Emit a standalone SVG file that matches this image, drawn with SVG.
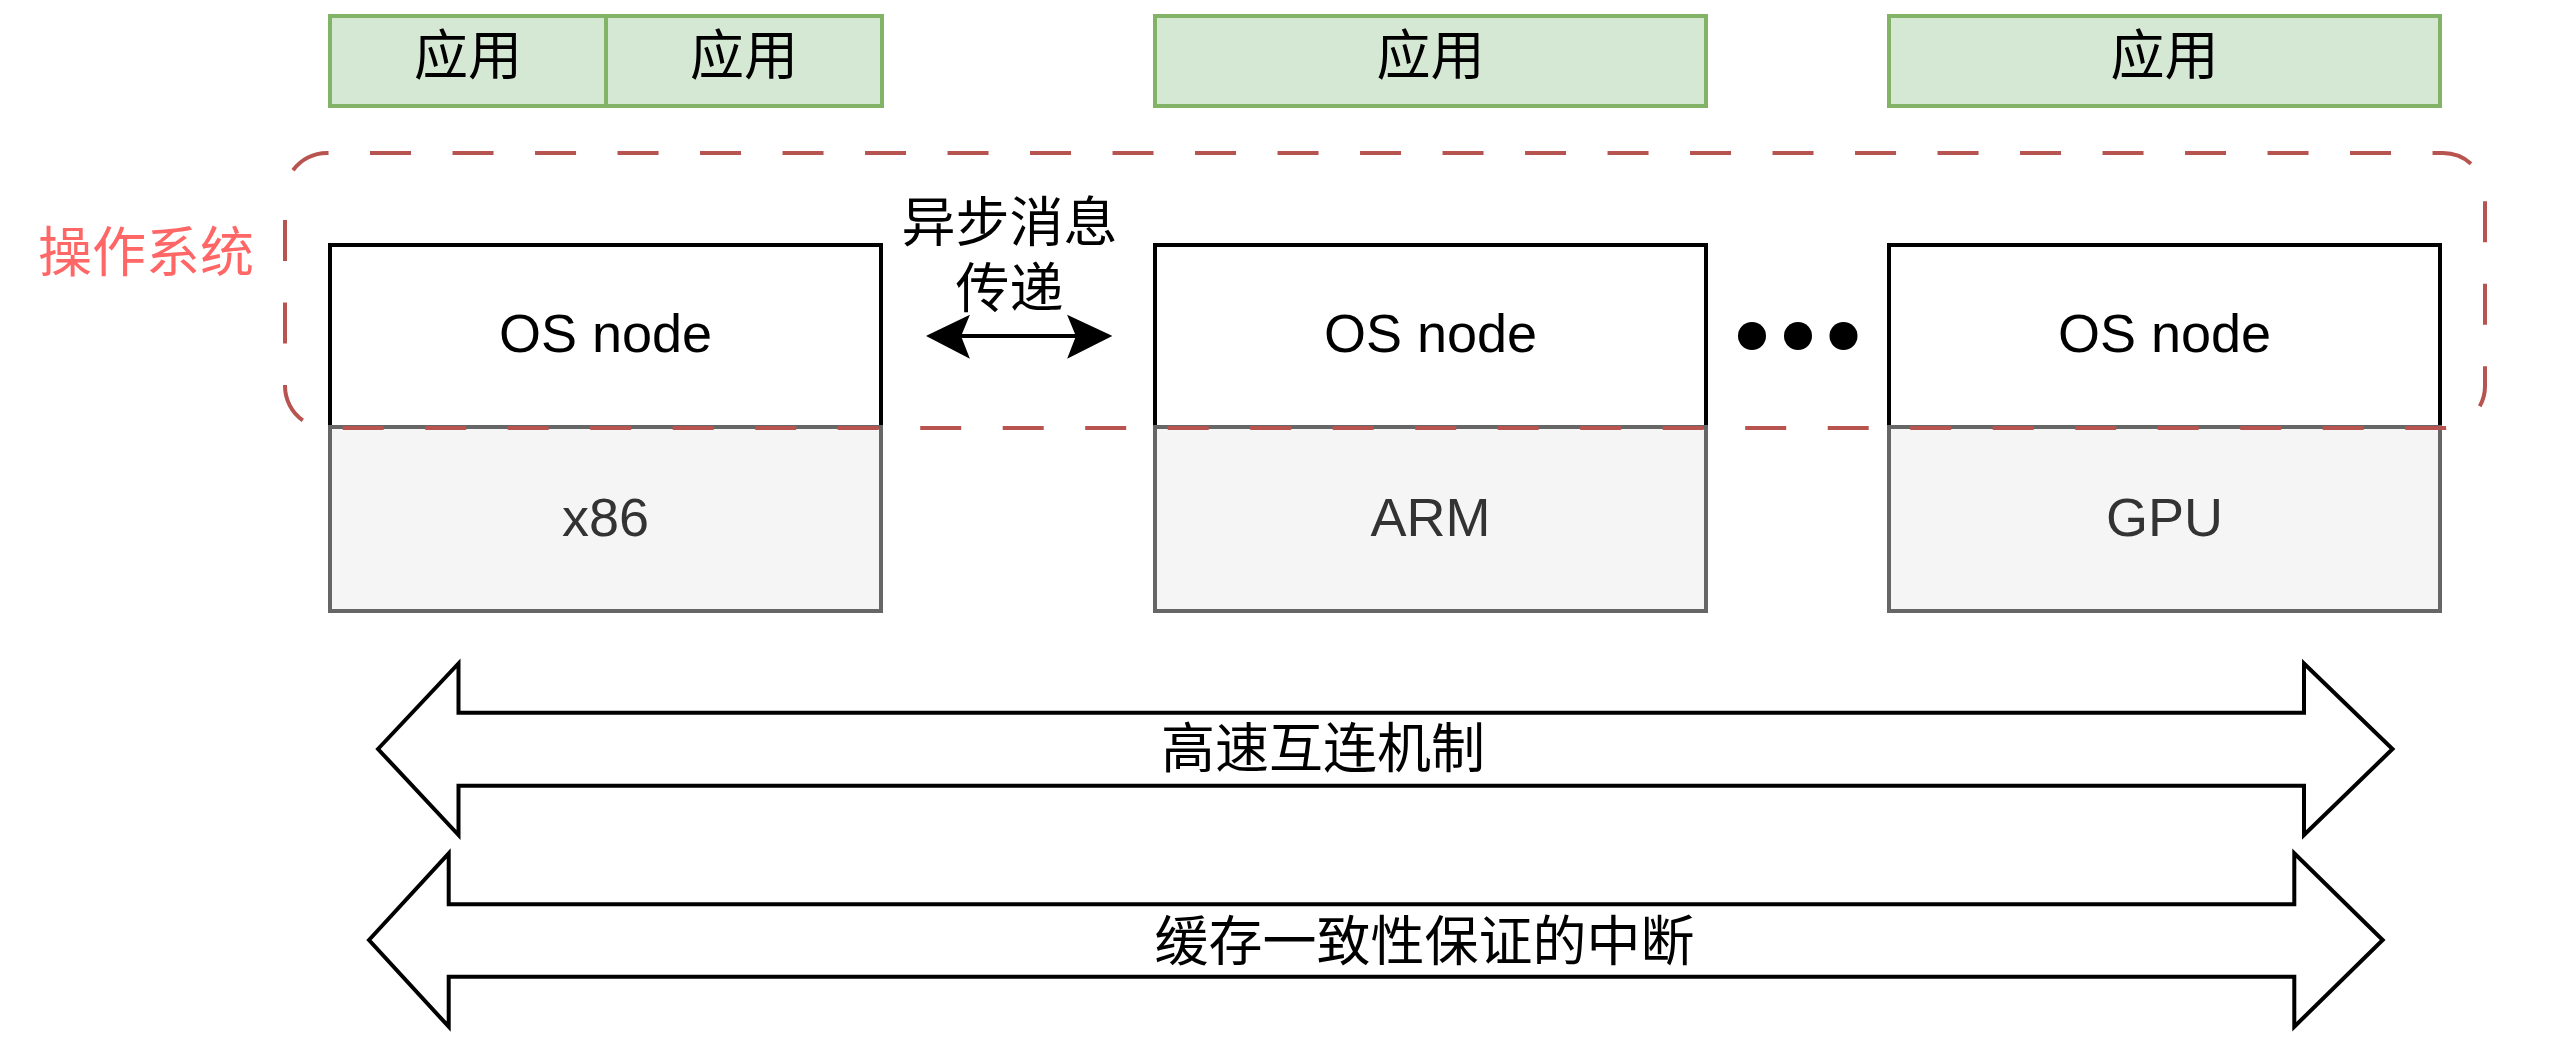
<svg xmlns="http://www.w3.org/2000/svg" width="2560" height="1046" viewBox="0 0 2560 1046">
  <style>
    .app { fill: #d5e8d4; stroke: #82b366; stroke-width: 4; }
    .os { fill: #ffffff; stroke: #000000; stroke-width: 4; }
    .hw { fill: #f5f5f5; stroke: #666666; stroke-width: 4; }
    .big { fill: #ffffff; stroke: #000000; stroke-width: 4; stroke-linejoin: miter; }
    .lat { font-family: "Liberation Sans", Arial, sans-serif; font-size: 54px; text-anchor: middle; fill: #000000; }
    .cjk { font-family: "Liberation Sans", "Noto Sans CJK SC", sans-serif; font-size: 54px; text-anchor: middle; fill: #000000; }
    .hwt { fill: #333333; }
  </style>

  <g id="app1">
    <rect class="app" x="330" y="16" width="276" height="90"/>
    <text class="cjk" x="468" y="75">应用</text>
  </g>
  <g id="app2">
    <rect class="app" x="606" y="16" width="276" height="90"/>
    <text class="cjk" x="744" y="75">应用</text>
  </g>
  <g id="app3">
    <rect class="app" x="1155" y="16" width="551" height="90"/>
    <text class="cjk" x="1430.5" y="75">应用</text>
  </g>
  <g id="app4">
    <rect class="app" x="1889" y="16" width="551" height="90"/>
    <text class="cjk" x="2164.5" y="75">应用</text>
  </g>

  <g id="os1">
    <rect class="os" x="330" y="245" width="551" height="182"/>
    <text class="lat" x="605.5" y="352">OS node</text>
  </g>
  <g id="os2">
    <rect class="os" x="1155" y="245" width="551" height="182"/>
    <text class="lat" x="1430.5" y="352">OS node</text>
  </g>
  <g id="os3">
    <rect class="os" x="1889" y="245" width="551" height="182"/>
    <text class="lat" x="2164.5" y="352">OS node</text>
  </g>

  <g id="hw1">
    <rect class="hw" x="330" y="427" width="551" height="184"/>
    <text class="lat hwt" x="605.5" y="536">x86</text>
  </g>
  <g id="hw2">
    <rect class="hw" x="1155" y="427" width="551" height="184"/>
    <text class="lat hwt" x="1430.5" y="536">ARM</text>
  </g>
  <g id="hw3">
    <rect class="hw" x="1889" y="427" width="551" height="184"/>
    <text class="lat hwt" x="2164.5" y="536">GPU</text>
  </g>

  <g id="ellipsis">
    <circle cx="1752" cy="336" r="14" fill="#000000"/>
    <circle cx="1798" cy="336" r="14" fill="#000000"/>
    <circle cx="1843.5" cy="336" r="14" fill="#000000"/>
  </g>

  <g id="os-group">
    <path d="M285,195 A42,42 0 0 1 327,153 L2443,153 A42,42 0 0 1 2485,195 L2485,386 A42,42 0 0 1 2443,428 L327,428 A42,42 0 0 1 285,386 Z" fill="none" stroke="#b85450" stroke-width="4" stroke-dasharray="41 41.5" stroke-dashoffset="56.1"/>
    <text class="cjk" x="146" y="272" fill="#ff6666" style="fill:#ff6666">操作系统</text>
  </g>

  <g id="interconnect">
    <polygon class="big" points="378,749 458.5,663.5 458.5,712.7 2304,712.7 2304,663.5 2392.5,749 2304,835 2304,785.7 458.5,785.7 458.5,835"/>
    <text class="cjk" x="1323" y="768">高速互连机制</text>
  </g>
  <g id="coherence">
    <polygon class="big" points="369,940 448.7,853.3 448.7,904.3 2294.3,904.3 2294.3,853.3 2382.7,940 2294.3,1026.7 2294.3,976.7 448.7,976.7 448.7,1026.7"/>
    <text class="cjk" x="1424.5" y="961">缓存一致性保证的中断</text>
  </g>

  <g id="connectors">
    <g id="msg-edge">
      <line x1="958" y1="336" x2="1080" y2="336" stroke="#000000" stroke-width="4"/>
      <polygon points="928.3,336 968,316.7 960,336 968,356.7" fill="#000000" stroke="#000000" stroke-width="2" stroke-linejoin="miter"/>
      <polygon points="1110,336 1069,316.7 1077,336 1069,356.7" fill="#000000" stroke="#000000" stroke-width="2" stroke-linejoin="miter"/>
    </g>
    <text class="cjk" x="1009.5" y="242">异步消息</text>
    <text class="cjk" x="1009.5" y="308">传递</text>
  </g>
</svg>
